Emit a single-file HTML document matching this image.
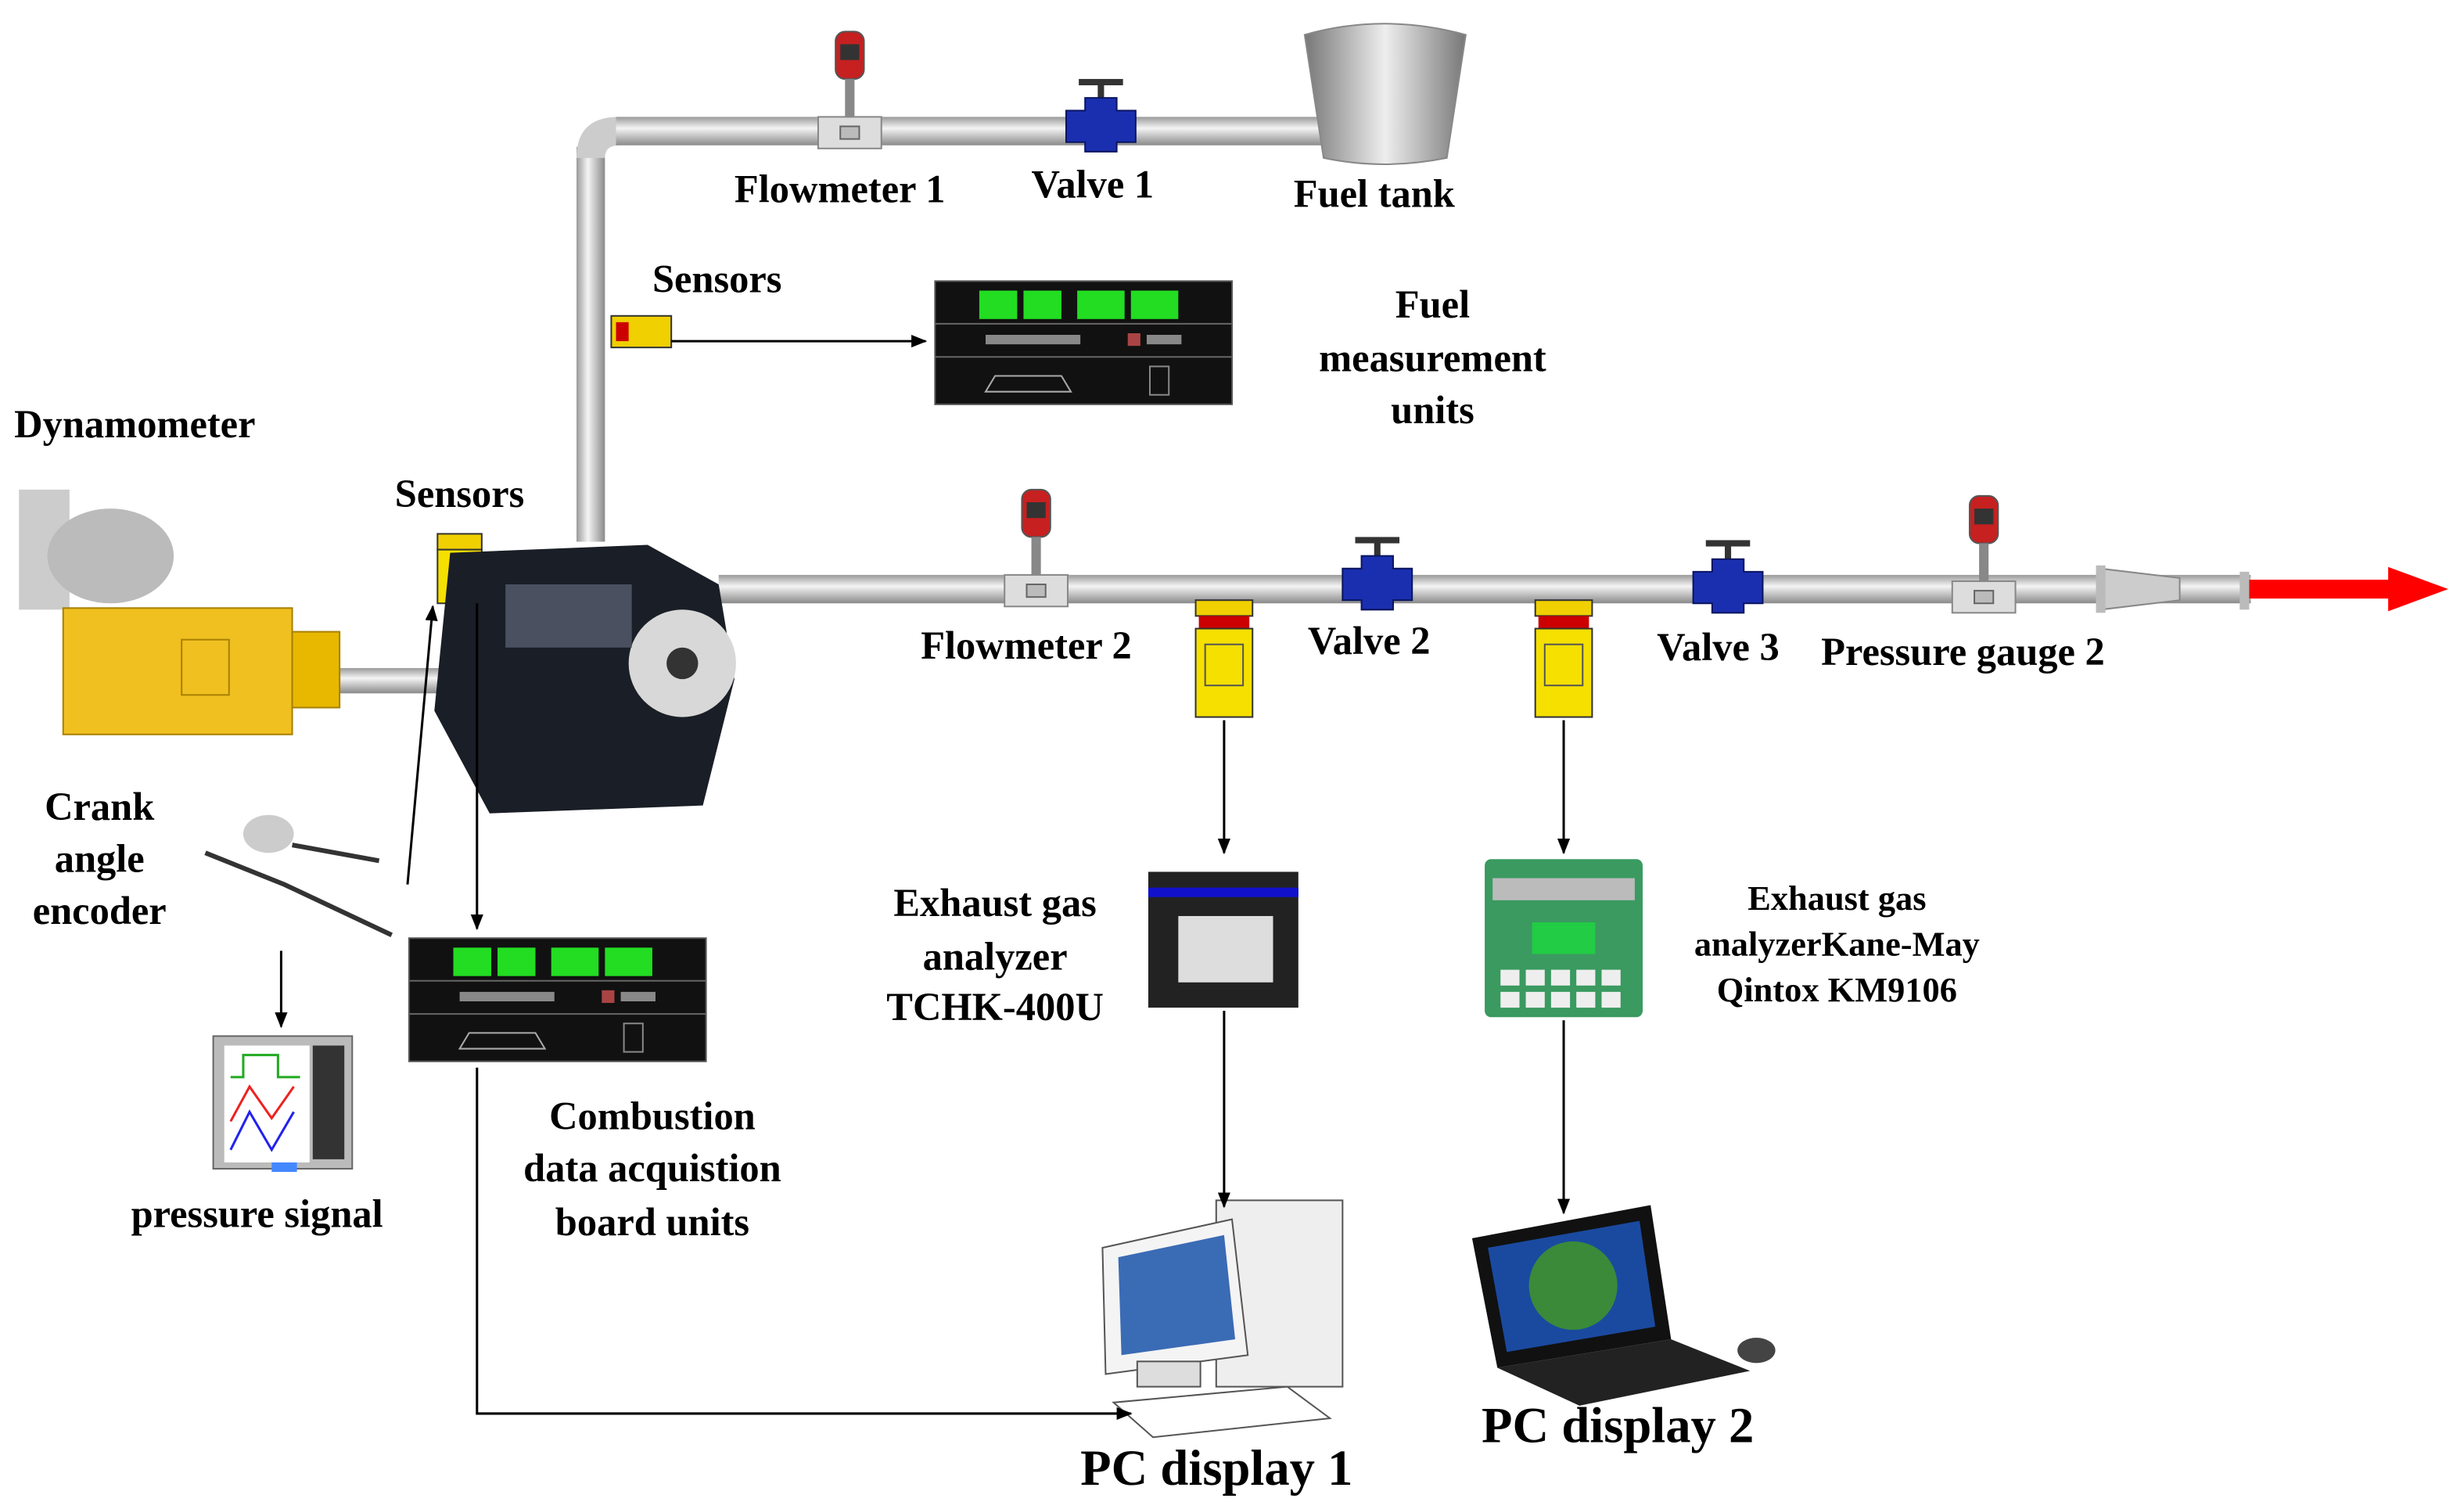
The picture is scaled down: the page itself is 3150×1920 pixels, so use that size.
<!DOCTYPE html>
<html><head><meta charset="utf-8"><style>
html,body{margin:0;padding:0;background:#fff;}
svg{display:block;}
text{font-family:"Liberation Serif",serif;font-weight:bold;fill:#000;}
</style></head><body>
<svg width="3150" height="1920" viewBox="0 0 1560 951" preserveAspectRatio="none" xmlns="http://www.w3.org/2000/svg">
<defs>
<linearGradient id="pipeH" x1="0" y1="0" x2="0" y2="1"><stop offset="0" stop-color="#9a9a9a"/><stop offset="0.4" stop-color="#f4f4f4"/><stop offset="1" stop-color="#8a8a8a"/></linearGradient>
<linearGradient id="pipeV" x1="0" y1="0" x2="1" y2="0"><stop offset="0" stop-color="#9a9a9a"/><stop offset="0.4" stop-color="#f4f4f4"/><stop offset="1" stop-color="#8a8a8a"/></linearGradient>
<linearGradient id="tank" x1="0" y1="0" x2="1" y2="0"><stop offset="0" stop-color="#777"/><stop offset="0.5" stop-color="#eee"/><stop offset="1" stop-color="#777"/></linearGradient>
<marker id="ar" markerWidth="10" markerHeight="10" refX="9" refY="5" orient="auto" markerUnits="userSpaceOnUse"><path d="M0,1 L10,5 L0,9 z" fill="#000"/></marker>
<g id="fm"><rect x="-9" y="-64" width="18" height="30" rx="6" fill="#c62020" stroke="#555"/><rect x="-6" y="-56" width="12" height="10" fill="#333"/><rect x="-3" y="-34" width="6" height="24" fill="#888"/><rect x="-20" y="-10" width="40" height="20" fill="#ddd" stroke="#888"/><rect x="-6" y="-4" width="12" height="8" fill="#bbb" stroke="#666"/></g>
<g id="valve"><rect x="-14" y="-30" width="28" height="4" fill="#333"/><rect x="-2" y="-27" width="4" height="10" fill="#333"/><path d="M-10,-18 h20 v8 h12 v20 h-12 v6 h-20 v-6 h-12 v-20 h12z" fill="#1a2fb0" stroke="#0a1560"/></g>
<g id="sens"><rect x="-18" y="0" width="36" height="10" fill="#f0d000" stroke="#333"/><rect x="-16" y="10" width="32" height="8" fill="#c00"/><rect x="-18" y="18" width="36" height="56" fill="#f5e000" stroke="#333"/><rect x="-12" y="28" width="24" height="26" fill="none" stroke="#555"/></g>
<g id="unit"><rect x="0" y="0" width="188" height="78" fill="#111" stroke="#555"/><rect x="28" y="6" width="24" height="18" fill="#2d2"/><rect x="56" y="6" width="24" height="18" fill="#2d2"/><rect x="90" y="6" width="30" height="18" fill="#2d2"/><rect x="124" y="6" width="30" height="18" fill="#2d2"/><line x1="0" y1="27" x2="188" y2="27" stroke="#666"/><line x1="0" y1="48" x2="188" y2="48" stroke="#666"/><rect x="32" y="34" width="60" height="6" fill="#888"/><rect x="122" y="33" width="8" height="8" fill="#a44"/><rect x="134" y="34" width="22" height="6" fill="#888"/><path d="M32,70 l6,-10 h42 l6,10z" fill="none" stroke="#aaa"/><rect x="136" y="54" width="12" height="18" fill="none" stroke="#888"/></g>
</defs>

<rect x="365" y="93" width="18" height="250" fill="url(#pipeV)"/>
<path d="M365,100 Q365,74 392,74 L392,92 Q383,92 383,100z" fill="#ccc"/>
<rect x="390" y="74" width="450" height="18" fill="url(#pipeH)"/>
<rect x="455" y="364" width="970" height="18" fill="url(#pipeH)"/>
<rect x="210" y="423" width="70" height="16" fill="url(#pipeH)"/>
<path d="M1330,360 L1380,366 v14 L1330,386z" fill="#ccc" stroke="#888"/>
<rect x="1327" y="358" width="6" height="30" fill="#bbb"/><rect x="1418" y="362" width="6" height="24" fill="#bbb"/>
<path d="M1424,367 h88 v-8 l38,14 l-38,14 v-8 h-88z" fill="#f00"/>

<path d="M826,22 Q876,8 928,22 L916,100 Q876,108 838,100z" fill="url(#tank)" stroke="#888"/>

<use href="#fm" x="538" y="84"/>
<use href="#valve" x="697" y="80"/>
<use href="#fm" x="656" y="374"/>
<use href="#valve" x="872" y="370"/>
<use href="#valve" x="1094" y="372"/>
<use href="#fm" x="1256" y="378"/>

<g><rect x="387" y="200" width="38" height="20" fill="#f0d000" stroke="#333"/><rect x="390" y="204" width="8" height="12" fill="#c00"/></g>
<use href="#sens" x="775" y="380"/>
<use href="#sens" x="990" y="380"/>
<g><rect x="277" y="338" width="28" height="10" fill="#f0d000" stroke="#333"/><rect x="277" y="348" width="28" height="34" fill="#f5e000" stroke="#333"/></g>

<path d="M285,350 L410,345 L455,370 L465,430 L445,510 L310,515 L275,450z" fill="#1a1e26"/>
<circle cx="432" cy="420" r="34" fill="#d8d8d8"/><circle cx="432" cy="420" r="10" fill="#333"/>
<rect x="320" y="370" width="80" height="40" fill="#4a5060"/>

<rect x="12" y="310" width="32" height="76" fill="#ccc"/>
<ellipse cx="70" cy="352" rx="40" ry="30" fill="#bbb"/>
<rect x="40" y="385" width="145" height="80" fill="#f0c020" stroke="#a88000"/>
<rect x="185" y="400" width="30" height="48" fill="#e8b800" stroke="#a88000"/>
<rect x="115" y="405" width="30" height="35" fill="none" stroke="#a88000"/>

<ellipse cx="170" cy="528" rx="16" ry="12" fill="#ccc"/>
<path d="M130,540 L180,560 L248,592" stroke="#333" stroke-width="3" fill="none"/>
<path d="M185,535 L240,545" stroke="#333" stroke-width="3" fill="none"/>

<use href="#unit" x="592" y="178"/>
<use href="#unit" x="259" y="594"/>

<rect x="135" y="656" width="88" height="84" fill="#bbb" stroke="#666"/>
<rect x="142" y="662" width="54" height="74" fill="#fff"/>
<rect x="198" y="662" width="20" height="72" fill="#333"/>
<polyline points="146,682 154,682 154,668 176,668 176,682 190,682" fill="none" stroke="#2a2" stroke-width="1.5"/>
<polyline points="146,710 158,688 172,708 186,688" fill="none" stroke="#e22" stroke-width="1.5"/>
<polyline points="146,728 158,704 172,728 186,704" fill="none" stroke="#22e" stroke-width="1.5"/>
<rect x="172" y="736" width="16" height="6" fill="#48f"/>

<rect x="727" y="552" width="95" height="86" fill="#222"/>
<rect x="727" y="562" width="95" height="6" fill="#11c"/>
<rect x="746" y="580" width="60" height="42" fill="#ddd"/>
<rect x="940" y="544" width="100" height="100" rx="4" fill="#3a9a60"/>
<rect x="945" y="556" width="90" height="14" fill="#bbb"/>
<rect x="970" y="584" width="40" height="20" fill="#2c4"/>
<g fill="#eee"><rect x="950" y="614" width="12" height="10"/><rect x="966" y="614" width="12" height="10"/><rect x="982" y="614" width="12" height="10"/><rect x="998" y="614" width="12" height="10"/><rect x="1014" y="614" width="12" height="10"/><rect x="950" y="628" width="12" height="10"/><rect x="966" y="628" width="12" height="10"/><rect x="982" y="628" width="12" height="10"/><rect x="998" y="628" width="12" height="10"/><rect x="1014" y="628" width="12" height="10"/></g>

<rect x="770" y="760" width="80" height="118" fill="#eee" stroke="#555"/>
<path d="M698,790 L780,772 L790,858 L700,870z" fill="#f4f4f4" stroke="#555"/>
<path d="M708,796 L775,782 L782,848 L710,858z" fill="#3a6bb5"/>
<rect x="720" y="862" width="40" height="16" fill="#ddd" stroke="#555"/>
<path d="M705,888 L815,878 L842,898 L730,910z" fill="#fff" stroke="#555"/>
<path d="M932,784 L1045,763 L1058,848 L948,866z" fill="#111"/>
<path d="M942,790 L1038,773 L1048,840 L954,856z" fill="#1a4aa0"/>
<circle cx="996" cy="814" r="28" fill="#3a8a3a"/>
<path d="M948,866 L1058,848 L1108,868 L1000,890z" fill="#222"/>
<ellipse cx="1112" cy="855" rx="12" ry="8" fill="#444"/>

<line x1="425" y1="216" x2="586" y2="216" stroke="#000" stroke-width="1.5" marker-end="url(#ar)"/>
<line x1="775" y1="456" x2="775" y2="540" stroke="#000" stroke-width="1.5" marker-end="url(#ar)"/>
<line x1="990" y1="456" x2="990" y2="540" stroke="#000" stroke-width="1.5" marker-end="url(#ar)"/>
<line x1="775" y1="640" x2="775" y2="764" stroke="#000" stroke-width="1.5" marker-end="url(#ar)"/>
<line x1="990" y1="646" x2="990" y2="768" stroke="#000" stroke-width="1.5" marker-end="url(#ar)"/>
<line x1="178" y1="602" x2="178" y2="650" stroke="#000" stroke-width="1.5" marker-end="url(#ar)"/>
<line x1="302" y1="382" x2="302" y2="588" stroke="#000" stroke-width="1.5" marker-end="url(#ar)"/>
<line x1="258" y1="560" x2="274" y2="384" stroke="#000" stroke-width="1.5" marker-end="url(#ar)"/>
<polyline points="302,676 302,895 716,895" fill="none" stroke="#000" stroke-width="1.5" marker-end="url(#ar)"/>

<g font-size="25">
<text x="465" y="128">Flowmeter 1</text>
<text x="653" y="125">Valve 1</text>
<text x="819" y="131">Fuel tank</text>
<text x="413" y="185">Sensors</text>
<text x="907" y="201" text-anchor="middle">Fuel</text>
<text x="907" y="235" text-anchor="middle">measurement</text>
<text x="907" y="268" text-anchor="middle">units</text>
<text x="9" y="277">Dynamometer</text>
<text x="250" y="321">Sensors</text>
<text x="583" y="417">Flowmeter 2</text>
<text x="828" y="414">Valve 2</text>
<text x="1049" y="418">Valve 3</text>
<text x="1153" y="421">Pressure gauge 2</text>
<text x="63" y="519" text-anchor="middle">Crank</text>
<text x="63" y="552" text-anchor="middle">angle</text>
<text x="63" y="585" text-anchor="middle">encoder</text>
<text x="630" y="580" text-anchor="middle">Exhaust gas</text>
<text x="630" y="614" text-anchor="middle">analyzer</text>
<text x="630" y="646" text-anchor="middle">TCHK-400U</text>
<text x="413" y="715" text-anchor="middle">Combustion</text>
<text x="413" y="748" text-anchor="middle">data acquistion</text>
<text x="413" y="782" text-anchor="middle">board units</text>
<text x="83" y="777">pressure signal</text>
</g>
<g font-size="22">
<text x="1163" y="576" text-anchor="middle">Exhaust gas</text>
<text x="1163" y="605" text-anchor="middle">analyzerKane-May</text>
<text x="1163" y="634" text-anchor="middle">Qintox KM9106</text>
</g>
<g font-size="32">
<text x="684" y="940">PC display 1</text>
<text x="938" y="913">PC display 2</text>
</g>
</svg>
</body></html>
